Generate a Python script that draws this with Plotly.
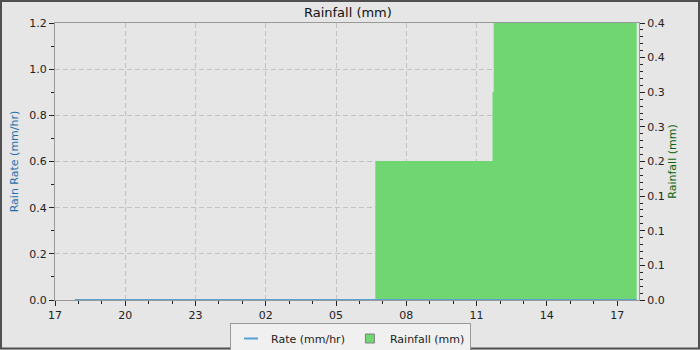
import plotly.graph_objects as go

# ---- data ----
rate_times = ["2024-01-01 17:51", "2024-01-02 17:50"]
rate_values = [0.0, 0.0]

rain_times = ["2024-01-01 17:51", "2024-01-02 06:42", "2024-01-02 11:42",
              "2024-01-02 11:45", "2024-01-02 17:50"]
rain_values = [0.0, 0.2, 0.3, 0.4, 0.4]

x_range = ["2024-01-01 17:00", "2024-01-02 17:56"]
x_tick0 = "2024-01-01 17:00"

left_tick_vals = [0.0, 0.2, 0.4, 0.6, 0.8, 1.0, 1.2]
right_tick_vals = [0.0, 0.05, 0.1, 0.15, 0.2, 0.25, 0.3, 0.35, 0.4]
right_tick_text = ["0.0", "0.1", "0.1", "0.1", "0.2", "0.3", "0.3", "0.4", "0.4"]

# ---- layout geometry (pixels) ----
W, H = 700, 350
ML, MR, MT, MB = 55, 61, 23, 50
PW, PH = W - ML - MR, H - MT - MB


def px(x):
    return (x - ML) / PW


def py(y):
    return (H - MB - y) / PH


FONT = "DejaVu Sans"
BG = "#e6e6e6"
GREEN = "#6fd672"
BLUE = "#55a2d6"
GRID = "#c2c2c2"

fig = go.Figure()

fig.add_trace(go.Scatter(
    x=rain_times, y=rain_values, name="Rainfall (mm)", yaxis="y",
    mode="lines", line=dict(shape="hv", width=1, color=GREEN),
    fill="tozeroy", fillcolor=GREEN, showlegend=False,
))
fig.add_trace(go.Scatter(
    x=rate_times, y=rate_values, name="Rate (mm/hr)", yaxis="y2",
    mode="lines", line=dict(width=2, color=BLUE), showlegend=False,
))
# legend entries (symbols as in the reference legend)
fig.add_trace(go.Scatter(
    x=[None], y=[None], name="Rate (mm/hr)", yaxis="y2", mode="markers",
    marker=dict(symbol="line-ew", size=10, color=BLUE,
                line=dict(color=BLUE, width=2)),
    legendrank=1,
))
fig.add_trace(go.Scatter(
    x=[None], y=[None], name="Rainfall (mm)", yaxis="y", mode="markers",
    marker=dict(symbol="square", size=9, color=GREEN,
                line=dict(color="#808080", width=1)),
    legendrank=2,
))

fig.update_layout(
    width=W, height=H,
    margin=dict(l=ML, r=MR, t=MT, b=MB, autoexpand=False),
    paper_bgcolor=BG, plot_bgcolor=BG,
    font=dict(family=FONT, size=11, color="#222222"),
    title=dict(text="Rainfall (mm)", x=0.497, xanchor="center",
               y=1 - 12 / H, yanchor="middle",
               font=dict(family=FONT, size=13, color="#111111")),
    showlegend=True,
    legend=dict(orientation="h", x=px(350.5), xanchor="center",
                y=py(323), yanchor="top",
                bgcolor="#f0f0f0", bordercolor="#999999", borderwidth=1,
                font=dict(family=FONT, size=11, color="#222222"),
                itemwidth=30, tracegroupgap=0),
    xaxis=dict(
        type="date", range=x_range, tick0=x_tick0, dtick=3 * 3600000,
        tickformat="%H", ticks="outside", ticklen=5, tickcolor="#222222",
        showline=True, linecolor="#999999", linewidth=1, mirror=True,
        showgrid=True, gridcolor=GRID, griddash="5px,3px", gridwidth=1,
        zeroline=False,
        minor=dict(dtick=3600000, ticks="outside", ticklen=3,
                   tickcolor="#222222", showgrid=False),
        tickfont=dict(size=11),
    ),
    yaxis=dict(
        side="right", range=[0, 0.4], tickmode="array",
        tickvals=right_tick_vals, ticktext=right_tick_text,
        ticks="outside", ticklen=5, tickcolor="#222222",
        showline=True, linecolor="#999999", linewidth=1,
        showgrid=False, zeroline=False,
        minor=dict(dtick=0.01, ticks="outside", ticklen=3,
                   tickcolor="#222222", showgrid=False),
        title=dict(text="Rainfall (mm)", standoff=4,
                   font=dict(size=11, color="#0a640a")),
    ),
    yaxis2=dict(
        overlaying="y", side="left", range=[0, 1.2], tickmode="array",
        tickvals=left_tick_vals, tickformat=".1f",
        ticks="outside", ticklen=5, tickcolor="#222222",
        showline=True, linecolor="#999999", linewidth=1,
        showgrid=True, gridcolor=GRID, griddash="5px,3px", gridwidth=1,
        zeroline=False,
        minor=dict(dtick=0.1, ticks="outside", ticklen=3,
                   tickcolor="#222222", showgrid=False),
        title=dict(text="Rain Rate (mm/hr)", standoff=8,
                   font=dict(size=11, color="#1f6fae")),
    ),
    shapes=[dict(type="rect", xref="paper", yref="paper",
                 x0=px(1), x1=px(699), y0=py(348.5), y1=py(1),
                 line=dict(color="#505050", width=2), fillcolor="rgba(0,0,0,0)",
                 layer="above")],
)

fig.write_html("out.html")
